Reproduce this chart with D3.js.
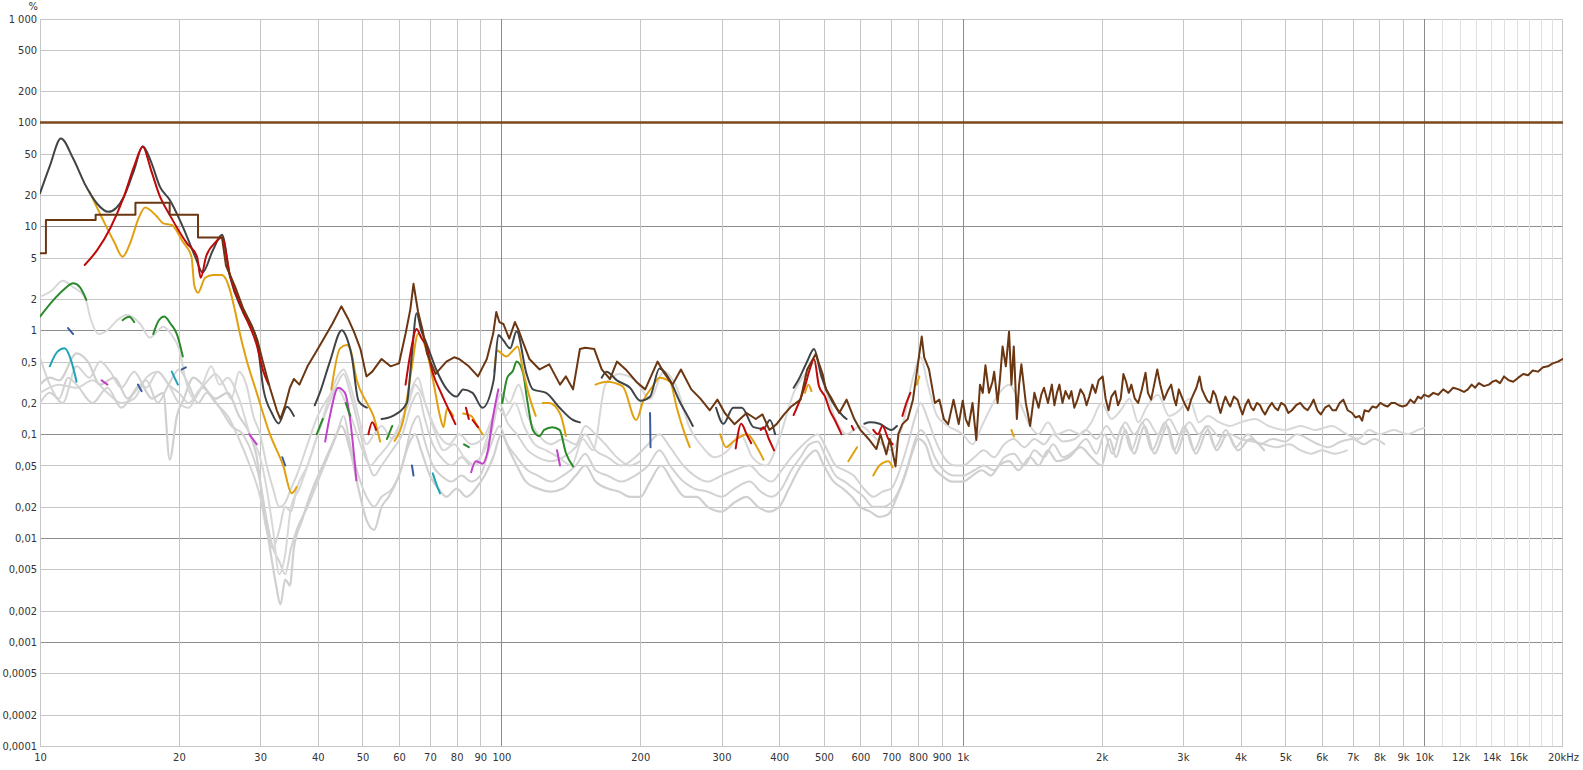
<!DOCTYPE html>
<html>
<head>
<meta charset="utf-8">
<script src="https://cdn.jsdelivr.net/npm/d3@7"></script>
<style>
  body { margin: 0; background: #fff; }
  svg text { font-family: "DejaVu Sans Condensed", "Liberation Sans Narrow", sans-serif; font-size: 11px; fill: #333; }
</style>
</head>
<body>
<svg id="dist" width="1583" height="770"></svg>
<script>
"use strict";

const plotLeft = 40;
const plotRight = 1563;
const plotTop = 18.5;
const plotBottom = 746;

// axis ticks
const yTicks = [1000, 500, 200, 100, 50, 20, 10, 5, 2, 1, 0.5, 0.2, 0.1, 0.05, 0.02, 0.01, 0.005, 0.002, 0.001, 0.0005, 0.0002, 0.0001];
const yTickLabels = ["1 000", "500", "200", "100", "50", "20", "10", "5", "2", "1", "0,5", "0,2", "0,1", "0,05", "0,02", "0,01", "0,005", "0,002", "0,001", "0,0005", "0,0002", "0,0001"];
const yMajor = [100, 10, 1, 0.1, 0.01, 0.001];

const xGrid = [10, 20, 30, 40, 50, 60, 70, 80, 90, 100, 200, 300, 400, 500, 600, 700, 800, 900, 1000,
  2000, 3000, 4000, 5000, 6000, 7000, 8000, 9000, 10000];
const xGridHigh = [11000, 12000, 13000, 14000, 15000, 16000, 17000, 18000, 19000, 20000];
const xMajor = [100, 1000, 10000];
const xTicks = [10, 20, 30, 40, 50, 60, 70, 80, 90, 100, 200, 300, 400, 500, 600, 700, 800, 900, 1000,
  2000, 3000, 4000, 5000, 6000, 7000, 8000, 9000, 10000, 12000, 14000, 16000, 20000];
const xTickLabels = ["10", "20", "30", "40", "50", "60", "70", "80", "90", "100", "200", "300", "400", "500", "600", "700", "800", "900", "1k",
  "2k", "3k", "4k", "5k", "6k", "7k", "8k", "9k", "10k", "12k", "14k", "16k", "20kHz"];
const xFaded = [12000, 14000, 16000];

// series: [frequency Hz, percent], null = gap
const refLevel = [[10, 100], [20000, 100]];

const thd = [[10,5.5],[10.3,5.5],[10.3,11.5],[13.2,11.5],[13.2,12.9],[16.1,12.9],[16.1,16.9],[19.1,16.9],[19.1,12.9],[22,12.9],[22,7.8],[24.8,7.8],
  [25.3,4.2],[26.5,2.6],[27.6,1.6],[28.8,1.1],[29.6,0.8],[30.4,0.5],[31.5,0.28],[32.6,0.17],[33.2,0.14],[34,0.19],[34.8,0.28],[35.5,0.34],[36.5,0.3],
  [38,0.45],[40,0.66],[43,1.15],[45,1.7],[46.5,1.3],[48,0.95],[49.5,0.66],[51,0.36],[52.5,0.4],[55,0.53],[57.5,0.45],[60,0.48],[62,0.93],[63.5,1.6],
  [64.5,2.8],[66,1.5],[67.5,1.0],[69,0.6],[72,0.38],[76,0.5],[79,0.55],[81,0.53],[85,0.45],[89,0.36],[93,0.53],[96,0.93],[97.5,1.5],[99,1.2],[101,1.15],
  [104,0.83],[107,1.2],[109,1.0],[111,0.8],[115,0.53],[121,0.42],[127,0.47],[134,0.3],[138,0.36],[143,0.27],[148,0.66],[152,0.68],[159,0.66],[165,0.42],
  [172,0.34],[178,0.5],[186,0.42],[196,0.32],[205,0.27],[218,0.5],[226,0.38],[235,0.3],[245,0.42],[258,0.27],[270,0.22],[283,0.17],[294,0.215],[305,0.16],
  [320,0.125],[340,0.16],[356,0.14],[368,0.155],[381,0.11],[395,0.125],[410,0.155],[425,0.185],[445,0.215],[460,0.42],[480,0.59],[497,0.38],[505,0.27],
  [520,0.22],[540,0.16],[560,0.215],[582,0.14],[600,0.11],[625,0.09],[650,0.072],[663,0.1],[683,0.064],[695,0.09],[715,0.049],[725,0.1],[740,0.125],
  [760,0.14],[780,0.215],[800,0.48],[815,0.87],[825,0.55],[845,0.42],[870,0.2],[890,0.215],[910,0.14],[930,0.125],[955,0.215],[980,0.125],[1000,0.21],
  [1015,0.14],[1030,0.12],[1050,0.2],[1070,0.088],[1090,0.3],[1105,0.25],[1120,0.46],[1140,0.25],[1160,0.32],[1170,0.4],[1190,0.2],[1205,0.35],
  [1220,0.7],[1240,0.45],[1260,0.97],[1275,0.3],[1290,0.7],[1310,0.14],[1325,0.3],[1340,0.47],[1370,0.2],[1400,0.12],[1430,0.25],[1460,0.18],
  [1480,0.24],[1500,0.28],[1530,0.2],[1560,0.3],[1580,0.19],[1600,0.25],[1620,0.3],[1645,0.2],[1670,0.26],[1700,0.22],[1720,0.26],[1745,0.18],[1770,0.21],
  [1800,0.27],[1830,0.24],[1855,0.19],[1880,0.23],[1910,0.3],[1940,0.25],[1970,0.33],[2010,0.36],[2040,0.22],[2070,0.17],[2100,0.23],[2140,0.26],
  [2170,0.19],[2200,0.22],[2230,0.38],[2260,0.32],[2290,0.25],[2320,0.3],[2360,0.22],[2400,0.2],[2440,0.26],[2490,0.39],[2520,0.25],[2560,0.215],
  [2600,0.3],[2640,0.42],[2680,0.3],[2730,0.215],[2780,0.26],[2830,0.3],[2870,0.22],[2900,0.19],[2940,0.27],[2970,0.24],[3020,0.2],[3080,0.17],
  [3120,0.21],[3160,0.24],[3210,0.28],[3260,0.36],[3300,0.27],[3340,0.24],[3390,0.21],[3440,0.2],[3490,0.26],[3530,0.24],[3580,0.19],[3620,0.16],
  [3670,0.2],[3710,0.23],[3760,0.2],[3800,0.185],[3870,0.23],[3940,0.215],[3990,0.18],[4040,0.155],[4100,0.19],[4160,0.215],[4220,0.18],[4270,0.17],
  [4340,0.2],[4410,0.19],[4460,0.17],[4520,0.155],[4600,0.18],[4680,0.2],[4750,0.18],[4820,0.17],[4900,0.2],[4990,0.19],[5080,0.16],[5170,0.17],
  [5280,0.19],[5390,0.2],[5490,0.18],[5590,0.17],[5680,0.19],[5760,0.215],[5870,0.17],[5970,0.155],[6100,0.18],[6220,0.19],[6330,0.17],[6440,0.17],
  [6560,0.2],[6680,0.215],[6830,0.17],[6980,0.16],[7100,0.145],[7240,0.15],[7340,0.135],[7430,0.17],[7580,0.165],[7730,0.185],[7880,0.18],[8040,0.2],
  [8190,0.19],[8340,0.185],[8490,0.2],[8640,0.2],[8810,0.19],[8980,0.185],[9160,0.19],[9340,0.215],[9520,0.2],[9700,0.23],[9850,0.22],[10000,0.24],
  [10230,0.23],[10470,0.25],[10730,0.24],[11000,0.27],[11280,0.25],[11560,0.28],[11880,0.27],[12200,0.255],[12440,0.27],[12680,0.3],[12900,0.28],
  [13140,0.31],[13480,0.29],[13820,0.3],[14060,0.32],[14310,0.33],[14600,0.31],[14900,0.36],[15250,0.33],[15600,0.32],[16000,0.35],[16400,0.38],
  [16800,0.37],[17200,0.41],[17650,0.4],[18100,0.44],[18550,0.45],[19000,0.48],[19500,0.5],[20000,0.53]];

const darkGray = [[10,20.8],[10.5,38],[11.1,70],[11.8,45],[12.6,24],[13.3,16.5],[14.06,13.8],[15.2,19.3],[16,35],[16.7,59],[17.4,42],[18.2,24],[19.1,18],
  [20.4,9.9],[21.7,5.1],[22.5,3.6],[23.7,5.9],[24.8,8.3],[25.8,3.3],[27.6,1.46],[29.5,0.81],[30.5,0.27],[31.8,0.16],[32.9,0.127],[34.3,0.184],[35.5,0.15], null,
  [39.4,0.19],[40.4,0.25],[42.5,0.5],[45.1,1.0],[46.2,0.85],[47.4,0.56],[49,0.21],[51.1,0.18], null,
  [55,0.14],[58.2,0.15],[62.4,0.2],[64,0.6],[65.5,1.46],[67,1.0],[68.8,0.75],[72.4,0.41],[76.2,0.27],[80,0.23],[82.6,0.27],[86.6,0.25],[91,0.18],
  [96.2,0.33],[98.5,0.9],[101,0.8],[104.5,0.67],[107.9,0.98],[113.3,0.385],[117,0.27],[125,0.25],[133.7,0.18],[143,0.137],[148,0.13], null,
  [165,0.35],[169,0.4],[178,0.33],[190,0.28],[200,0.21],[210,0.23],[220,0.43],[232,0.33],[243,0.21],[256,0.137],[260,0.12], null,
  [292,0.18],[303,0.126],[318,0.18],[332,0.18],[352,0.117],[370,0.113],[382,0.137],[392,0.1], null,
  [430,0.28],[440,0.33],[460,0.5],[476,0.66],[494,0.36],[520,0.21],[550,0.15],[560,0.14], null,
  [612,0.126],[630,0.13],[660,0.126],[700,0.11],[720,0.12]];

const red = [[12.5,4.25],[13.3,5.9],[14.2,9.6],[15.2,19.3],[16,38],[16.7,58.5],[17.4,35],[18.2,19.3],[19.1,12.9],[20.8,6.9],[21.9,5.1],[22.3,3.2],
  [22.9,5.1],[24,7],[24.8,7.85],[25.8,3.4],[27.6,1.5],[29.5,0.72],[30.5,0.4],[31.3,0.3], null,
  [51.5,0.1],[52.5,0.13],[53.5,0.11], null,
  [62,0.3],[63.5,0.6],[65.5,1.03],[67,0.85],[68.8,0.7],[71,0.39],[74,0.25],[77.5,0.16],[79.5,0.125], null,
  [83.8,0.18],[85,0.14], null, [86.6,0.137],[89,0.117], null,
  [322,0.073],[331,0.126],[340,0.1],[348,0.082], null, [365,0.11],[370,0.117],[380,0.09],[390,0.07], null,
  [430,0.153],[445,0.22],[456,0.3],[466,0.42],[476,0.53],[488,0.29],[503,0.23],[515,0.17],[528,0.137],[546,0.1], null,
  [575,0.12],[580,0.11], null, [640,0.11],[655,0.1],[670,0.12],[690,0.09],[705,0.08], null,
  [740,0.15],[755,0.2],[770,0.25]];

const orange = [[12.8,21.6],[13.7,11.5],[14.5,7.0],[15.1,5.1],[15.7,7.0],[16.3,11.5],[16.9,15.2],[17.9,12.5],[18.5,10.7],[19.3,10.3],[20.4,7.1],
  [21.3,5.1],[21.6,2.7],[22,2.3],[22.8,3.2],[23.7,3.4],[24.8,3.4],[25.8,2.45],[26.5,1.5],[27.1,0.94],[27.9,0.56],[29.5,0.25],[31.5,0.1],[33.7,0.049],
  [35.1,0.027],[36,0.031], null,
  [42.8,0.27],[44.7,0.67],[46.2,0.72],[47,0.67],[48.6,0.33],[51.1,0.2],[52.8,0.15],[54.6,0.085], null,
  [58.7,0.086],[61.3,0.137],[63.8,0.41],[66,0.92],[68.8,0.64],[71.1,0.33],[73.6,0.15],[74.9,0.117],[76.2,0.175],[78.7,0.15], null,
  [82.6,0.158],[86,0.15],[88.2,0.126],[91,0.1], null,
  [96.5,0.4],[97.8,0.64],[102.5,0.56],[106,0.64],[108.5,0.7],[111.4,0.41],[115,0.23],[118.7,0.15], null,
  [123,0.2],[127,0.2],[134,0.158],[138,0.096], null,
  [160,0.3],[169,0.32],[183,0.29],[196,0.137],[203,0.21],[213,0.29],[220,0.35],[232,0.32],[240,0.18],[247,0.117],[256,0.075], null,
  [298,0.1],[307,0.075],[318,0.085],[341,0.1],[358,0.075],[370,0.057], null,
  [455,0.25],[463,0.3],[470,0.26], null,
  [565,0.055],[590,0.075], null, [640,0.04],[660,0.05],[690,0.055],[705,0.048], null,
  [795,0.3],[805,0.36], null, [1275,0.11],[1290,0.095]];

const green = [[10,1.35],[10.7,1.96],[11.3,2.5],[11.8,2.83],[12.2,2.6],[12.6,1.96], null,
  [15.1,1.25],[15.6,1.35],[16,1.2], null,
  [17.6,0.92],[18.1,1.25],[18.6,1.36],[19.2,1.15],[19.8,0.92],[20.4,0.56], null,
  [39.8,0.1],[41,0.14], null, [46,0.2],[47,0.15], null, [56.5,0.09],[58,0.12], null,
  [83,0.08],[85,0.075], null,
  [100.5,0.2],[103,0.35],[106,0.41],[107.9,0.5],[111.4,0.39],[114,0.2],[117,0.11],[121,0.096],[123.8,0.11],[129,0.117],[133.7,0.11],[138,0.066],[143,0.049]];

const teal = [[10.5,0.45],[10.9,0.62],[11.3,0.67],[11.7,0.5],[12,0.32], null,
  [19.3,0.4],[19.9,0.3], null, [71,0.042],[72.5,0.032],[73.6,0.027]];

const blue = [[11.5,1.05],[11.8,0.92], null, [16.3,0.3],[16.6,0.26], null, [20.3,0.42],[20.7,0.44], null,
  [33.5,0.06],[34,0.05], null, [64,0.05],[64.5,0.04], null, [210,0.16],[210.5,0.075]];

const magenta = [[13.6,0.33],[14,0.3], null, [28.4,0.1],[29.5,0.08], null,
  [41.5,0.085],[42.5,0.15],[44.3,0.28],[45.8,0.25],[46.9,0.15],[48.5,0.036], null,
  [86,0.043],[88,0.055],[91,0.052],[93.5,0.07],[96,0.15],[98.5,0.27], null,
  [132,0.07],[134,0.05]];

const gray1 = [[10,2.1],[10.6,2.4],[11.2,3.0],[11.8,2.6],[12.5,2.1],[12.9,1.25],[13.4,0.92],[14,1.0],[14.7,1.25],[15.4,1.4],[16.5,1.15],[17.3,0.85],
  [18.5,1.08],[19.3,0.9],[20,0.67],[20.8,0.3],[21.6,0.22],[22.5,0.3],[23.5,0.45],[24.5,0.3],[25.5,0.35],[27,0.22],[28.5,0.1],[30,0.06],[31,0.03],
  [32,0.012],[33,0.0045],[34,0.007],[35,0.02],[36.5,0.03],[38,0.05],[40,0.1],[42,0.2],[44,0.35],[45.5,0.42],[47,0.3],[49,0.15],[51,0.08],[53,0.1],
  [55,0.12],[58,0.09],[61,0.14],[64,0.28],[66,0.35],[68,0.22],[71,0.12],[75,0.07],[79,0.08],[83,0.06],[88,0.05],[93,0.09],[98,0.18],[102,0.15],
  [107,0.2],[112,0.12],[118,0.08],[125,0.07],[133,0.06],[142,0.05],[150,0.09],[158,0.07],[168,0.3],[180,0.38],[195,0.33],[210,0.22],[225,0.4],
  [240,0.28],[255,0.12],[270,0.08],[290,0.06],[310,0.07],[330,0.1],[350,0.06],[375,0.05],[400,0.09],[430,0.25],[460,0.4],[480,0.5],[500,0.3],
  [530,0.14],[560,0.1],[600,0.12],[650,0.09],[700,0.07],[740,0.12],[780,0.35],[810,0.55],[840,0.3],[880,0.15],[930,0.12],[1000,0.1],[1050,0.08],
  [1100,0.12],[1150,0.18],[1200,0.25],[1260,0.3],[1330,0.2],[1400,0.12],[1460,0.1],[1530,0.13],[1600,0.1],[1700,0.11],[1800,0.1],[1900,0.13],
  [2000,0.2],[2100,0.14],[2200,0.17],[2300,0.22],[2400,0.13],[2500,0.18],[2650,0.24],[2800,0.15],[2950,0.17],[3100,0.22],[3250,0.13],[3400,0.15],
  [3600,0.13],[3800,0.12],[4000,0.13],[4300,0.14],[4600,0.12],[5000,0.11],[5400,0.12],[5800,0.11],[6300,0.12],[6800,0.1],[7200,0.09],[7600,0.11],
  [8000,0.1],[8600,0.11],[9200,0.1],[9700,0.11],[10000,0.115]];

const gray2 = [[10,0.3],[10.5,0.35],[11,0.33],[12,0.6],[12.7,0.5],[13.5,0.3],[14.5,0.35],[15.5,0.22],[16.5,0.3],[17.5,0.22],[18.5,0.25],[19.1,0.057],
  [19.8,0.15],[20.5,0.22],[21.5,0.35],[22.5,0.3],[24,0.22],[25.5,0.25],[27,0.15],[28.5,0.1],[29.5,0.06],[30.5,0.02],[31.5,0.008],[32.5,0.0035],
  [33.2,0.0023],[34,0.004],[34.8,0.0035],[35.5,0.008],[37,0.015],[39,0.03],[41,0.05],[43,0.08],[45,0.12],[47,0.07],[49,0.03],[51,0.015],[53,0.012],
  [55,0.02],[57,0.025],[60,0.04],[63,0.08],[65,0.1],[67,0.07],[70,0.04],[73,0.03],[76,0.025],[80,0.03],[84,0.025],[88,0.03],[92,0.04],[96,0.06],
  [100,0.1],[104,0.07],[108,0.05],[113,0.035],[120,0.03],[128,0.028],[136,0.03],[145,0.04],[152,0.05],[160,0.035],[170,0.03],[180,0.028],[190,0.025],
  [200,0.025],[210,0.035],[222,0.05],[235,0.035],[250,0.025],[265,0.025],[280,0.02],[300,0.018],[320,0.022],[340,0.025],[360,0.02],[380,0.018],
  [400,0.02],[420,0.03],[440,0.045],[460,0.06],[480,0.07],[500,0.05],[525,0.035],[550,0.03],[575,0.025],[600,0.02],[630,0.018],[660,0.016],
  [690,0.017],[720,0.025],[750,0.04],[780,0.07],[800,0.09],[830,0.08],[860,0.05],[900,0.04],[950,0.035],[1000,0.035],[1050,0.04],[1100,0.045],
  [1150,0.04],[1200,0.05],[1260,0.055],[1320,0.045],[1400,0.06],[1460,0.05],[1530,0.07],[1600,0.055],[1700,0.06],[1800,0.075],[1900,0.06],
  [2000,0.05],[2080,0.09],[2150,0.06],[2250,0.11],[2350,0.065],[2480,0.12],[2600,0.065],[2780,0.12],[2900,0.065],[3050,0.11],[3200,0.065],
  [3400,0.11],[3550,0.07],[3750,0.1],[3950,0.07],[4200,0.09],[4500,0.07]];

const gray3 = [[10,0.2],[10.5,0.25],[11,0.22],[11.5,0.35],[12,0.3],[13,0.2],[14,0.28],[15,0.18],[16,0.25],[17,0.33],[18,0.2],[19,0.3],[20,0.42],
  [21,0.3],[22,0.2],[23,0.25],[24.5,0.18],[26,0.12],[27.5,0.1],[29,0.06],[30,0.035],[31,0.015],[32,0.008],[33,0.006],[34,0.0045],[35,0.008],
  [36,0.012],[38,0.02],[40,0.035],[42,0.06],[44,0.1],[45.5,0.15],[47,0.08],[49,0.04],[51,0.025],[53,0.02],[55,0.025],[58,0.03],[61,0.05],[64,0.12],
  [66,0.15],[68,0.09],[71,0.05],[74,0.04],[78,0.035],[82,0.04],[86,0.035],[90,0.04],[95,0.08],[99,0.12],[103,0.08],[108,0.06],[114,0.045],[120,0.04],
  [128,0.035],[136,0.04],[145,0.05],[152,0.065],[160,0.045],[170,0.04],[182,0.035],[195,0.04],[208,0.05],[220,0.07],[232,0.05],[248,0.035],
  [262,0.03],[280,0.028],[300,0.025],[320,0.03],[345,0.035],[365,0.028],[385,0.025],[405,0.03],[425,0.045],[445,0.06],[465,0.08],[485,0.085],
  [505,0.06],[530,0.04],[555,0.035],[580,0.03],[610,0.025],[640,0.02],[670,0.02],[700,0.022],[730,0.03],[760,0.05],[790,0.09],[810,0.11],
  [840,0.09],[870,0.06],[910,0.045],[960,0.04],[1000,0.04],[1060,0.045],[1110,0.05],[1170,0.045],[1230,0.06],[1290,0.065],[1360,0.05],
  [1430,0.07],[1500,0.06],[1570,0.08],[1650,0.06],[1750,0.07],[1850,0.09],[1950,0.065],[2030,0.1],[2110,0.065],[2220,0.12],[2320,0.07],
  [2450,0.13],[2570,0.07],[2750,0.13],[2870,0.07],[3020,0.12],[3170,0.07],[3370,0.12],[3520,0.075],[3720,0.11],[3900,0.075],[4150,0.1],
  [4400,0.08],[4700,0.09],[5000,0.085],[5300,0.1],[5600,0.09],[5900,0.08],[6200,0.075],[6600,0.085],[7000,0.09],[7400,0.08],[7800,0.09],[8200,0.08]];

const gray4 = [[10,0.55],[10.5,0.3],[11.2,0.2],[12,0.45],[12.8,0.35],[13.5,0.5],[14.2,0.4],[15,0.28],[16,0.4],[17,0.28],[18,0.4],[19,0.3],[20,0.25],
  [21,0.2],[22.5,0.28],[24,0.2],[25.5,0.15],[27,0.09],[28.5,0.05],[30,0.025],[31,0.012],[32,0.008],[33,0.012],[34,0.02],[35,0.018],[36,0.03],
  [38,0.05],[40,0.1],[42,0.18],[44,0.3],[45.5,0.38],[47,0.25],[49,0.12],[51,0.06],[53,0.04],[55,0.05],[58,0.07],[61,0.1],[64,0.2],[66,0.25],
  [68,0.15],[71,0.08],[74,0.06],[78,0.05],[82,0.06],[86,0.05],[90,0.06],[95,0.1],[99,0.2],[103,0.13],[108,0.1],[114,0.07],[120,0.06],[128,0.055],
  [136,0.06],[145,0.075],[152,0.1],[160,0.07],[170,0.06],[182,0.05],[195,0.06],[208,0.08],[220,0.1],[232,0.075],[248,0.05],[262,0.04],[280,0.035],
  [300,0.04],[320,0.045],[345,0.05],[365,0.04],[385,0.035],[405,0.045],[425,0.06],[445,0.075],[465,0.09],[485,0.1],[505,0.075],[530,0.05],
  [555,0.045],[580,0.04],[610,0.03],[640,0.025],[670,0.028],[700,0.03],[730,0.045],[760,0.08],[790,0.15],[810,0.2],[840,0.14],[870,0.09],
  [910,0.06],[960,0.05],[1000,0.05],[1060,0.06],[1110,0.07],[1170,0.06],[1230,0.08],[1290,0.09],[1360,0.075],[1430,0.09],[1500,0.08],[1570,0.1],
  [1650,0.085],[1750,0.09],[1850,0.11],[1950,0.09],[2050,0.12],[2150,0.09],[2250,0.13],[2350,0.1],[2500,0.14],[2650,0.1],[2800,0.14],[2950,0.1],
  [3100,0.13],[3250,0.1],[3400,0.12],[3600,0.095],[3800,0.1],[4000,0.09],[4250,0.085],[4500,0.08],[4800,0.075],[5100,0.08],[5400,0.07],
  [5700,0.065],[6000,0.07],[6400,0.065],[6800,0.07]];

const gray5 = [[10,0.25],[11,0.3],[12,0.28],[13,0.33],[14,0.25],[15,0.2],[16,0.22],[17,0.35],[18,0.4],[19,0.3],[20,0.2],[21,0.18],[22,0.25],
  [23,0.32],[24,0.38],[25,0.3],[26,0.22],[27,0.4],[28,0.3],[29,0.15],[30,0.1],[31,0.05],[32,0.03],[33,0.02],[34,0.022],[35,0.03],[36,0.04],
  [38,0.08],[40,0.15],[42,0.22],[44,0.28],[46,0.2],[48,0.12],[50,0.07],[52,0.05],[54,0.06],[57,0.08],[60,0.12],[63,0.2],[65,0.3],[67,0.25],
  [70,0.15],[73,0.1],[77,0.08],[81,0.1],[86,0.08],[91,0.09],[96,0.15],[100,0.25],[104,0.2],[109,0.3],[114,0.15],[120,0.1],[128,0.08],[136,0.09],
  [145,0.08],[152,0.12],[160,0.1],[168,0.08],[178,0.06],[190,0.05],[200,0.055]];

window.addEventListener("load", init);

function init() {
    const svg = d3.select("svg#dist");

    const xScale = d3.scaleLog().domain([10, 20000]).range([plotLeft, plotRight]);
    const yScale = d3.scaleLog().domain([0.0001, 1000]).range([plotBottom, plotTop]);

    // grid
    const grid = svg.append("g").attr("shape-rendering", "crispEdges");
    grid.selectAll("line.hx")
        .data(yTicks)
        .join("line")
        .attr("x1", plotLeft).attr("x2", plotRight)
        .attr("y1", v => Math.round(yScale(v)) + 0.5)
        .attr("y2", v => Math.round(yScale(v)) + 0.5)
        .attr("stroke", v => yMajor.includes(v) ? "#8c8c8c" : "#c6c6c6");
    grid.selectAll("line.vx")
        .data(xGrid)
        .join("line")
        .attr("y1", plotTop).attr("y2", plotBottom)
        .attr("x1", f => Math.round(xScale(f)) + 0.5)
        .attr("x2", f => Math.round(xScale(f)) + 0.5)
        .attr("stroke", f => xMajor.includes(f) ? "#8c8c8c" : "#c6c6c6");
    grid.selectAll("line.vh")
        .data(xGridHigh)
        .join("line")
        .attr("y1", plotTop).attr("y2", plotBottom)
        .attr("x1", f => Math.round(xScale(f)) - 0.5)
        .attr("x2", f => Math.round(xScale(f)) - 0.5)
        .attr("stroke", f => f === 20000 ? "#c6c6c6" : "#e0e0e0");

    // axes (labels only)
    const yAxis = d3.axisLeft(yScale)
        .tickValues(yTicks)
        .tickSize(0)
        .tickPadding(3)
        .tickFormat((d, i) => yTickLabels[i]);
    const yg = svg.append("g").attr("transform", `translate(${plotLeft},0)`).call(yAxis);
    yg.select(".domain").remove();
    yg.selectAll("text").attr("fill", "#333").style("font-size", "11px");

    const xAxis = d3.axisBottom(xScale)
        .tickValues(xTicks)
        .tickSize(0)
        .tickPadding(7)
        .tickFormat((d, i) => xTickLabels[i]);
    const xg = svg.append("g").attr("transform", `translate(0,${plotBottom})`).call(xAxis);
    xg.select(".domain").remove();
    xg.selectAll("text")
        .attr("fill", d => xFaded.includes(d) ? "#a0a0a0" : "#333")
        .style("font-size", "11px");

    svg.append("text").attr("x", 38).attr("y", 10).attr("text-anchor", "end")
        .style("font-size", "11px").text("%");

    // curves
    svg.append("clipPath").attr("id", "plotclip")
        .append("rect").attr("x", plotLeft).attr("y", plotTop - 2)
        .attr("width", plotRight - plotLeft).attr("height", plotBottom - plotTop + 4);
    const curves = svg.append("g").attr("clip-path", "url(#plotclip)");

    const smooth = d3.line()
        .defined(d => d !== null)
        .x(d => xScale(d[0]))
        .y(d => yScale(d[1]))
        .curve(d3.curveMonotoneX);
    const jagged = d3.line()
        .defined(d => d !== null)
        .x(d => xScale(d[0]))
        .y(d => yScale(d[1]));

    const layers = [
        { data: gray5, color: "#d6d6d6", width: 2, gen: smooth },
        { data: gray4, color: "#d4d4d4", width: 2, gen: smooth },
        { data: gray3, color: "#d2d2d2", width: 2, gen: smooth },
        { data: gray2, color: "#d0d0d0", width: 2.2, gen: smooth },
        { data: gray1, color: "#d8d8d8", width: 2, gen: smooth },
        { data: teal, color: "#1fa3b5", width: 2, gen: smooth },
        { data: blue, color: "#3a5c9e", width: 2, gen: smooth },
        { data: magenta, color: "#c242c8", width: 2, gen: smooth },
        { data: green, color: "#2a8a2a", width: 2, gen: smooth },
        { data: orange, color: "#e0a010", width: 2, gen: smooth },
        { data: darkGray, color: "#3f4448", width: 2, gen: smooth },
        { data: red, color: "#c00808", width: 2, gen: smooth },
        { data: thd, color: "#6b3612", width: 2, gen: jagged },
        { data: refLevel, color: "#7b4a1c", width: 2.5, gen: jagged }
    ];

    curves.selectAll("path")
        .data(layers)
        .join("path")
        .attr("d", l => l.gen(l.data))
        .attr("fill", "none")
        .attr("stroke", l => l.color)
        .attr("stroke-width", l => l.width)
        .attr("stroke-linejoin", "round")
        .attr("stroke-linecap", "round");
}
</script>
</body>
</html>
